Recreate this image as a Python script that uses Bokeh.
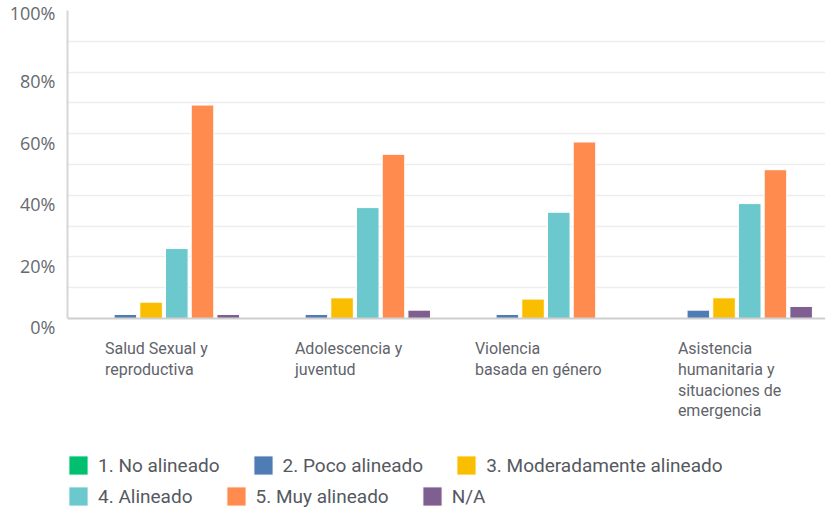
from bokeh.plotting import figure
from bokeh.models import (Range1d, FixedTicker, Label, Legend, LegendItem,
                          ColumnDataSource, CustomJSTickFormatter)
from bokeh.embed import file_html
from bokeh.resources import INLINE

categories = ["Salud Sexual y\nreproductiva",
              "Adolescencia y\njuventud",
              "Violencia\nbasada en género",
              "Asistencia\nhumanitaria y\nsituaciones de\nemergencia"]
series = ["1. No alineado", "2. Poco alineado", "3. Moderadamente alineado",
          "4. Alineado", "5. Muy alineado", "N/A"]
no_alineado = [0.0, 0.0, 0.0, 0.0]
poco_alineado = [1.3, 1.3, 1.3, 2.7]
moderadamente = [5.3, 6.7, 6.3, 6.7]
alineado = [22.7, 36.0, 34.5, 37.3]
muy_alineado = [69.3, 53.3, 57.3, 48.3]
na = [1.3, 2.7, 0.0, 3.9]
values = [no_alineado, poco_alineado, moderadamente, alineado, muy_alineado, na]
y_ticks = [0, 20, 40, 60, 80, 100]
grid_ticks = [10, 20, 30, 40, 50, 60, 70, 80, 90]

colors = ["#00bf6f", "#507cb6", "#f9be00", "#6bc8cd", "#ff8b4f", "#7f5f90"]
FONT = "Roboto"

p = figure(width=825, height=512, output_backend="svg", toolbar_location=None,
           x_range=Range1d(-0.505, 3.464), y_range=Range1d(-63, 100),
           min_border_left=67, min_border_right=0, min_border_top=10,
           min_border_bottom=0)
p.outline_line_color = None

step = 0.1346
bw = 0.118
renderers = []
xs = list(range(len(categories)))
for k, (name, vals) in enumerate(zip(series, values)):
    src = ColumnDataSource(dict(x=[i + (k - 2.5) * step for i in xs], top=vals))
    r = p.vbar(x="x", top="top", bottom=0, width=bw, source=src,
               fill_color=colors[k], line_color="white", line_width=1)
    renderers.append(r)

# x axis sits at y = 0
p.xaxis.fixed_location = 0
p.xaxis.ticker = FixedTicker(ticks=[])
p.xaxis.major_label_text_font_size = "0px"
p.xaxis.major_label_standoff = 0
p.xaxis.major_tick_out = 0
p.xaxis.major_tick_in = 0
p.xaxis.minor_tick_out = 0
p.xaxis.minor_tick_in = 0
p.xaxis.major_tick_line_color = None
p.xaxis.minor_tick_line_color = None
p.xaxis.axis_line_color = "#cfcfcf"
p.xaxis.axis_line_width = 2

p.yaxis.bounds = (0, 100)
p.yaxis.ticker = FixedTicker(ticks=y_ticks)
p.yaxis.formatter = CustomJSTickFormatter(
    code="return tick >= 100 ? tick + '%' : '\\n' + tick + '%'")
p.yaxis.major_tick_line_color = None
p.yaxis.minor_tick_line_color = None
p.yaxis.major_tick_out = 0
p.yaxis.major_tick_in = 0
p.yaxis.minor_tick_out = 0
p.yaxis.minor_tick_in = 0
p.yaxis.axis_line_color = "#d6d6d6"
p.yaxis.axis_line_width = 2
p.yaxis.major_label_standoff = 12
p.yaxis.major_label_text_font = "Open Sans"
p.yaxis.major_label_text_font_size = "18px"
p.yaxis.major_label_text_color = "#666a70"
p.yaxis.major_label_text_line_height = 0.74

p.xgrid.visible = False
p.ygrid.ticker = FixedTicker(ticks=grid_ticks)
p.ygrid.grid_line_color = "#ededed"
p.ygrid.grid_line_width = 1.5

# category labels (centered block, left-aligned lines)
half_widths = [59, 60, 71, 59]
for i, (cat, hw) in enumerate(zip(categories, half_widths)):
    p.add_layout(Label(x=i, y=0, x_offset=-hw, y_offset=-21, text=cat,
                       text_align="left", text_baseline="top",
                       text_font=FONT, text_font_size="16px",
                       text_color="#5f646b", text_line_height=1.08))

def make_legend(idx, vy):
    lg = Legend(items=[LegendItem(label=series[k], renderers=[renderers[k]]) for k in idx],
                orientation="horizontal", location=(-1, vy),
                glyph_width=24, glyph_height=24, label_height=24,
                label_standoff=8, spacing=31, padding=0, margin=0,
                border_line_alpha=0, background_fill_alpha=0,
                label_text_font=FONT, label_text_font_size="19px",
                label_text_color="#55595f")
    p.add_layout(lg, "center")

make_legend([0, 1, 2], 35)
make_legend([3, 4, 5], 4)

open("out.html", "w").write(file_html(p, INLINE))
